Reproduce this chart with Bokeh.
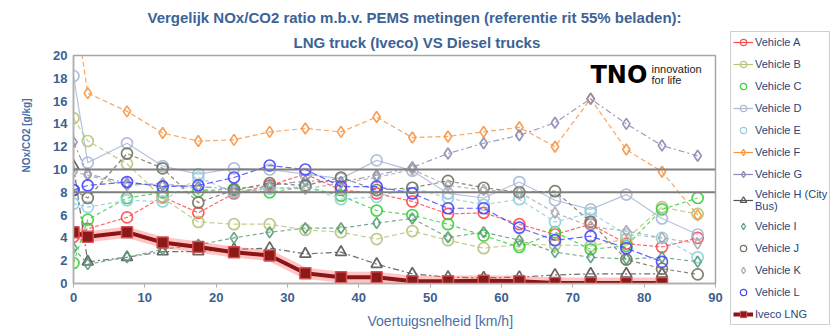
from bokeh.plotting import figure
from bokeh.layouts import row
from bokeh.models import Span, Label, Legend, LegendItem, Range1d, FixedTicker, Title
from bokeh.embed import file_html
from bokeh.resources import INLINE

nan = float("nan")

# ---- data -------------------------------------------------------------
SPEED = [0, 2, 7.5, 12.5, 17.5, 22.5, 27.5, 32.5, 37.5, 42.5, 47.5,
         52.5, 57.5, 62.5, 67.5, 72.5, 77.5, 82.5, 87.5]

VEHICLE_A = [4.1, 4.8, 5.8, 7.6, 6.2, 7.9, 8.6, 9.6, 8.2, 7.9, 7.2, 6.1, 6.2, 5.2, 4.3, 5.2, 3.5, 3.2, 4.0]
VEHICLE_B = [14.5, 12.5, 10.5, 7.5, 5.4, 5.2, 5.2, 4.7, 4.5, 3.9, 4.6, 3.8, 3.1, 3.4, 3.4, 3.3, 3.9, 6.7, 6.1]
VEHICLE_C = [1.8, 5.6, 7.5, 8.0, 8.1, 8.3, 8.0, 8.5, 7.7, 6.4, 6.0, 5.2, 4.2, 3.2, 4.5, 3.0, 3.3, 6.5, 7.5]
VEHICLE_D = [18.2, 10.6, 12.3, 10.3, 9.6, 10.1, 10.0, 9.6, 9.2, 10.8, 9.9, 7.9, 7.5, 8.9, 7.3, 6.5, 7.8, 5.7, 4.3]
VEHICLE_E = [7.0, 6.7, 7.3, 7.2, 9.3, 8.0, 8.3, 8.5, 7.4, 7.6, 8.4, 7.5, 6.9, 7.4, 5.4, 6.2, 4.3, 4.0, 2.3]
VEHICLE_F = [25.0, 16.7, 15.1, 13.2, 12.5, 12.6, 13.3, 13.6, 13.3, 14.6, 12.8, 12.9, 13.3, 13.7, 12.0, 16.2, 11.75, 9.8, 6.0]
VEHICLE_G = [12.4, 9.6, 8.8, 8.6, 8.5, 8.3, 8.6, 9.0, 8.9, 9.5, 10.2, 11.4, 12.3, 13.0, 14.1, 16.2, 14.0, 12.1, 11.2]
VEHICLE_H = [10.3, 1.9, 2.3, 2.8, 2.8, 3.0, 3.1, 2.6, 2.75, 1.7, 0.85, 0.55, 0.5, 0.55, 0.75, 0.85, 0.85, 0.85, nan]
VEHICLE_I = [3.1, 1.7, 2.3, 3.0, 3.4, 4.0, 4.5, 4.85, 4.85, 5.3, 5.7, 4.05, 4.5, 3.8, 2.75, 2.3, 2.15, 2.3, 1.9]
VEHICLE_J = [8.2, 7.5, 11.4, 10.1, 7.1, 8.2, 8.8, 8.6, 9.3, 8.2, 8.4, 9.0, 8.4, 8.0, 8.1, 5.4, 2.1, 1.3, 0.8]
VEHICLE_K = [9.8, 9.5, 8.6, 8.8, 8.3, 7.9, 8.4, 8.3, 8.8, 9.3, 10.0, 8.6, 8.2, 8.0, 6.2, 5.0, 4.6, 4.0, 3.5]
VEHICLE_L = [8.2, 8.6, 8.9, 8.5, 8.6, 9.3, 10.35, 10.0, 8.5, 8.5, 7.9, 6.6, 6.6, 4.9, 3.8, 4.15, 3.1, 1.9, nan]
IVECO_LNG = [4.5, 4.1, 4.5, 3.6, 3.2, 2.75, 2.45, 0.9, 0.55, 0.55, 0.2, 0.2, 0.25, 0.2, 0.05, 0.05, 0.05, 0.05, nan]

LIMITS = [10, 8]
X_TICKS = [0, 10, 20, 30, 40, 50, 60, 70, 80, 90]
Y_TICKS = [0, 2, 4, 6, 8, 10, 12, 14, 16, 18, 20]

TITLE_1 = "Vergelijk NOx/CO2 ratio m.b.v. PEMS metingen (referentie rit 55% beladen):"
TITLE_2 = "LNG truck (Iveco) VS Diesel trucks"
X_LABEL = "Voertuigsnelheid [km/h]"
Y_LABEL = "NOx/CO2 [g/kg]"

# name, values, colour, dash, marker, show line in legend
SERIES = [
    ("Vehicle A", VEHICLE_A, "#ff4b4b", "4 2", "circle", True),
    ("Vehicle B", VEHICLE_B, "#b7c47a", "5 3", "circle", True),
    ("Vehicle C", VEHICLE_C, "#3ccf3c", "4 3", "circle", False),
    ("Vehicle D", VEHICLE_D, "#a9b9d6", "solid", "circle", True),
    ("Vehicle E", VEHICLE_E, "#92cfdc", "4 3", "circle", False),
    ("Vehicle F", VEHICLE_F, "#f79646", "5 3", "diamond", True),
    ("Vehicle G", VEHICLE_G, "#8c8ab2", "6 3 2 3", "diamond", True),
    ("Vehicle H (City\nBus)", VEHICLE_H, "#555555", "6 3 2 3", "triangle", True),
    ("Vehicle I", VEHICLE_I, "#5a9e7a", "4 3", "diamond", False),
    ("Vehicle J", VEHICLE_J, "#6f735e", "4 3", "circle", False),
    ("Vehicle K", VEHICLE_K, "#a8a8b0", "4 3", "diamond", False),
    ("Vehicle L", VEHICLE_L, "#4646ff", "6 3", "circle", False),
]
LNG_NAME = "Iveco LNG"

TEXT_BLUE = "#3d5f91"
TITLE_BLUE = "#3d6396"
FONT = "Liberation Sans"

# ---- main chart -------------------------------------------------------
p = figure(width=726, height=334, output_backend="svg", toolbar_location=None,
           x_range=Range1d(0, 90), y_range=Range1d(0, 20),
           min_border_left=73, min_border_right=11, min_border_top=55, min_border_bottom=51)
p.frame_align = False
p.background_fill_color = "white"
p.border_fill_color = "white"
p.outline_line_color = "#a6a6a6"
p.outline_line_width = 1.5
p.xgrid.visible = False
p.ygrid.visible = False

for ax, ticks in ((p.xaxis[0], X_TICKS), (p.yaxis[0], Y_TICKS)):
    ax.ticker = FixedTicker(ticks=ticks)
    ax.axis_line_color = "#b0b0b0"
    ax.axis_line_width = 1.5
    ax.major_tick_line_color = "#b0b0b0"
    ax.major_tick_in = 0
    ax.major_tick_out = 4
    ax.minor_tick_line_color = None
    ax.major_label_text_font = FONT
    ax.major_label_text_font_style = "bold"
    ax.major_label_text_font_size = "13px"
    ax.major_label_text_color = TEXT_BLUE
p.yaxis[0].major_tick_out = 0
p.yaxis[0].major_label_standoff = 6
p.xaxis[0].major_label_standoff = 5

for lvl in LIMITS:
    p.add_layout(Span(location=lvl, dimension="width", line_color="#7f7f7f", line_width=2))

for name, vals, col, dash, marker, show_line in SERIES:
    p.line(SPEED, vals, line_color=col, line_width=1.2, line_dash=dash, line_alpha=0.85)
    p.scatter(SPEED, vals, marker=marker, size=11, line_color=col, line_width=1.7,
              line_alpha=0.9, fill_color=None)

p.line(SPEED, IVECO_LNG, line_color="#ff5a5a", line_width=11, line_alpha=0.35)
p.line(SPEED, IVECO_LNG, line_color="#8b1414", line_width=4)
p.scatter(SPEED, IVECO_LNG, marker="square", size=11, fill_color="#8b1a1a",
          line_color="#d85050", line_width=1.5)

# titles: p.title is outermost, added titles sit closer to the plot
p.title.text = TITLE_1
p.title.align = "left"
p.title.offset = 74
p.title.standoff = 2
p.title.text_font = FONT
p.title.text_font_style = "bold"
p.title.text_font_size = "15px"
p.title.text_color = TITLE_BLUE
p.add_layout(Title(text=TITLE_2, align="left", offset=220, standoff=10, text_font=FONT,
                   text_font_style="bold", text_font_size="15px", text_color=TITLE_BLUE),
             "above")

# axis titles
p.add_layout(Title(text=Y_LABEL, align="right", offset=43, standoff=36,
                   vertical_align="middle", text_font=FONT, text_font_style="bold",
                   text_font_size="10px", text_color="#4a6fa5"), "left")
p.add_layout(Title(text=X_LABEL, align="left", offset=294, standoff=12,
                   vertical_align="bottom", text_font=FONT, text_font_style="normal",
                   text_font_size="14px", text_color="#4a6fa5"), "below")

# TNO logo text
p.add_layout(Label(x=517, y=209, x_units="screen", y_units="screen", text="TNO",
                   text_align="left", text_baseline="middle", text_font="DejaVu Sans",
                   text_font_style="bold", text_font_size="24px", text_color="black"))
p.add_layout(Label(x=578, y=215, x_units="screen", y_units="screen", text="innovation",
                   text_align="left", text_baseline="middle", text_font=FONT,
                   text_font_size="11px", text_color="#222222"))
p.add_layout(Label(x=578, y=204, x_units="screen", y_units="screen", text="for life",
                   text_align="left", text_baseline="middle", text_font=FONT,
                   text_font_size="11px", text_color="#222222"))

# ---- legend panel (its renderers lie outside its ranges, only the legend shows) ----
lg = figure(width=110, height=334, output_backend="svg", toolbar_location=None,
            x_range=Range1d(1000, 1001), y_range=Range1d(1000, 1001),
            x_axis_location=None, y_axis_location=None,
            min_border=0, min_border_left=0, min_border_right=0,
            min_border_top=0, min_border_bottom=0)
lg.frame_align = False
lg.outline_line_color = None
lg.xgrid.visible = False
lg.ygrid.visible = False
lg.background_fill_color = "white"
lg.border_fill_color = "white"

items = []
for name, vals, col, dash, marker, show_line in SERIES:
    rs = []
    if show_line:
        rs.append(lg.line(SPEED, vals, line_color=col, line_width=1.2, line_dash="solid"))
    rs.append(lg.scatter(SPEED, vals, marker=marker, size=7, line_color=col, line_width=1.2,
                         fill_color=None))
    items.append(LegendItem(label=name, renderers=rs))
items.append(LegendItem(label=LNG_NAME, renderers=[
    lg.line(SPEED, IVECO_LNG, line_color="#8b1414", line_width=4),
    lg.scatter(SPEED, IVECO_LNG, marker="square", size=8, fill_color="#8b1a1a",
               line_color="#d85050")]))

legend = Legend(items=items, location=(4, 9), orientation="vertical",
                border_line_color="#a0a0a0", border_line_width=1.5,
                background_fill_color="white", background_fill_alpha=1,
                label_text_font=FONT, label_text_font_size="11px",
                label_text_color="#2a4478", label_standoff=2,
                glyph_width=20, glyph_height=16, label_height=16,
                spacing=6, padding=2, margin=0)
lg.add_layout(legend, "center")

layout = row(p, lg, spacing=0)
open("out.html", "w").write(file_html(layout, INLINE))
